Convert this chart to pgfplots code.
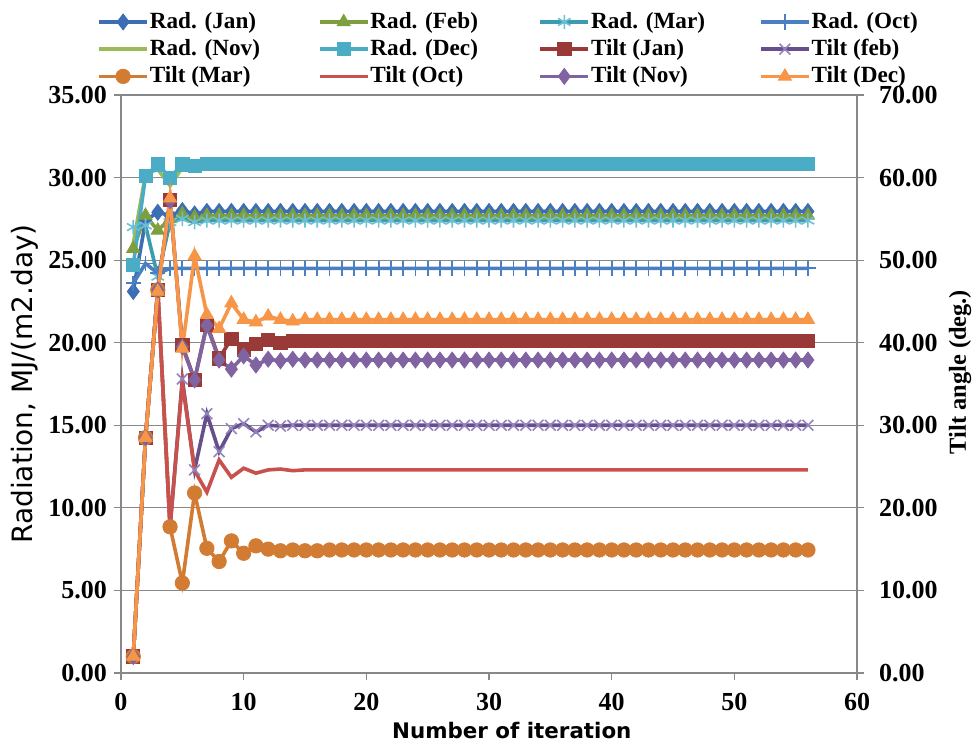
\documentclass[border=0pt]{standalone}
\usepackage{pgfplots}
\pgfplotsset{compat=1.18}
\usepackage{pgfplotstable}
\usepackage{fontspec}
\setmainfont{Liberation Serif}
\newfontfamily\labelsans{DejaVu Sans}

\definecolor{axisgray}{HTML}{888888}
\definecolor{rjanc}{HTML}{3C6EB4}
\definecolor{rfebc}{HTML}{7F9F3F}
\definecolor{rmarc}{HTML}{3D9BB0}
\definecolor{rmarm}{HTML}{6CC0D6}
\definecolor{roctc}{HTML}{4A7FC4}
\definecolor{rnovc}{HTML}{9BBB59}
\definecolor{rdecc}{HTML}{4BACC6}
\definecolor{tjanc}{HTML}{993A38}
\definecolor{tfebc}{HTML}{664F8C}
\definecolor{tfebm}{HTML}{9484BE}
\definecolor{tmarc}{HTML}{D27B32}
\definecolor{toctc}{HTML}{C8504D}
\definecolor{tnovc}{HTML}{8064A2}
\definecolor{tdecc}{HTML}{F79646}

% iteration, radiation (MJ/m2.day) and tilt angle (deg.) for each month
\pgfplotstableread{
it rjan  rfeb rmar roct rnov rdec  tjan tfeb tmar toct tnov tdec
1  23.1  25.7 27.0 23.6 26.0 24.7  2.0  2.0  2.0  2.0  2.0  2.0
2  27.4  27.7 27.1 24.8 30.2 30.1  28.5 28.5 28.5 28.5 28.5 28.5
3  27.9  26.8 24.0 24.2 30.5 30.8  46.4 46.4 46.4 46.4 46.4 46.2
4  27.7  27.5 27.3 24.5 29.5 30.0  57.3 17.7 17.7 17.6 57.2 57.5
5  28.0  27.8 27.5 24.5 30.6 30.8  39.7 35.6 10.9 35.2 39.5 39.3
6  27.8  27.6 27.3 24.5 30.7 30.7  35.5 24.6 21.8 24.5 35.5 50.5
7  27.95 27.7 27.4 24.5 30.8 30.85 42.2 31.4 15.1 21.9 42.1 43.4
8  27.95 27.7 27.4 24.5 30.8 30.85 38.1 26.8 13.5 25.8 37.9 41.7
9  27.95 27.7 27.4 24.5 30.8 30.85 40.5 29.6 16.0 23.7 36.8 44.8
10 27.95 27.7 27.4 24.5 30.8 30.85 39.2 30.2 14.5 24.8 38.4 42.8
11 27.95 27.7 27.4 24.5 30.8 30.85 39.9 29.2 15.4 24.2 37.3 42.5
12 27.95 27.7 27.4 24.5 30.8 30.85 40.3 30.0 15.0 24.6 38.0 43.2
13 27.95 27.7 27.4 24.5 30.8 30.85 40.0 29.9 14.8 24.7 37.8 42.8
14 27.95 27.7 27.4 24.5 30.8 30.85 40.2 30.0 14.9 24.5 38.0 42.6
15 27.95 27.7 27.4 24.5 30.8 30.85 40.2 30.0 14.8 24.6 37.9 42.8
16 27.95 27.7 27.4 24.5 30.8 30.85 40.2 30.0 14.8 24.6 37.9 42.8
17 27.95 27.7 27.4 24.5 30.8 30.85 40.2 30.0 14.9 24.6 37.9 42.8
18 27.95 27.7 27.4 24.5 30.8 30.85 40.2 30.0 14.9 24.6 37.9 42.8
19 27.95 27.7 27.4 24.5 30.8 30.85 40.2 30.0 14.9 24.6 37.9 42.8
20 27.95 27.7 27.4 24.5 30.8 30.85 40.2 30.0 14.9 24.6 37.9 42.8
21 27.95 27.7 27.4 24.5 30.8 30.85 40.2 30.0 14.9 24.6 37.9 42.8
22 27.95 27.7 27.4 24.5 30.8 30.85 40.2 30.0 14.9 24.6 37.9 42.8
23 27.95 27.7 27.4 24.5 30.8 30.85 40.2 30.0 14.9 24.6 37.9 42.8
24 27.95 27.7 27.4 24.5 30.8 30.85 40.2 30.0 14.9 24.6 37.9 42.8
25 27.95 27.7 27.4 24.5 30.8 30.85 40.2 30.0 14.9 24.6 37.9 42.8
26 27.95 27.7 27.4 24.5 30.8 30.85 40.2 30.0 14.9 24.6 37.9 42.8
27 27.95 27.7 27.4 24.5 30.8 30.85 40.2 30.0 14.9 24.6 37.9 42.8
28 27.95 27.7 27.4 24.5 30.8 30.85 40.2 30.0 14.9 24.6 37.9 42.8
29 27.95 27.7 27.4 24.5 30.8 30.85 40.2 30.0 14.9 24.6 37.9 42.8
30 27.95 27.7 27.4 24.5 30.8 30.85 40.2 30.0 14.9 24.6 37.9 42.8
31 27.95 27.7 27.4 24.5 30.8 30.85 40.2 30.0 14.9 24.6 37.9 42.8
32 27.95 27.7 27.4 24.5 30.8 30.85 40.2 30.0 14.9 24.6 37.9 42.8
33 27.95 27.7 27.4 24.5 30.8 30.85 40.2 30.0 14.9 24.6 37.9 42.8
34 27.95 27.7 27.4 24.5 30.8 30.85 40.2 30.0 14.9 24.6 37.9 42.8
35 27.95 27.7 27.4 24.5 30.8 30.85 40.2 30.0 14.9 24.6 37.9 42.8
36 27.95 27.7 27.4 24.5 30.8 30.85 40.2 30.0 14.9 24.6 37.9 42.8
37 27.95 27.7 27.4 24.5 30.8 30.85 40.2 30.0 14.9 24.6 37.9 42.8
38 27.95 27.7 27.4 24.5 30.8 30.85 40.2 30.0 14.9 24.6 37.9 42.8
39 27.95 27.7 27.4 24.5 30.8 30.85 40.2 30.0 14.9 24.6 37.9 42.8
40 27.95 27.7 27.4 24.5 30.8 30.85 40.2 30.0 14.9 24.6 37.9 42.8
41 27.95 27.7 27.4 24.5 30.8 30.85 40.2 30.0 14.9 24.6 37.9 42.8
42 27.95 27.7 27.4 24.5 30.8 30.85 40.2 30.0 14.9 24.6 37.9 42.8
43 27.95 27.7 27.4 24.5 30.8 30.85 40.2 30.0 14.9 24.6 37.9 42.8
44 27.95 27.7 27.4 24.5 30.8 30.85 40.2 30.0 14.9 24.6 37.9 42.8
45 27.95 27.7 27.4 24.5 30.8 30.85 40.2 30.0 14.9 24.6 37.9 42.8
46 27.95 27.7 27.4 24.5 30.8 30.85 40.2 30.0 14.9 24.6 37.9 42.8
47 27.95 27.7 27.4 24.5 30.8 30.85 40.2 30.0 14.9 24.6 37.9 42.8
48 27.95 27.7 27.4 24.5 30.8 30.85 40.2 30.0 14.9 24.6 37.9 42.8
49 27.95 27.7 27.4 24.5 30.8 30.85 40.2 30.0 14.9 24.6 37.9 42.8
50 27.95 27.7 27.4 24.5 30.8 30.85 40.2 30.0 14.9 24.6 37.9 42.8
51 27.95 27.7 27.4 24.5 30.8 30.85 40.2 30.0 14.9 24.6 37.9 42.8
52 27.95 27.7 27.4 24.5 30.8 30.85 40.2 30.0 14.9 24.6 37.9 42.8
53 27.95 27.7 27.4 24.5 30.8 30.85 40.2 30.0 14.9 24.6 37.9 42.8
54 27.95 27.7 27.4 24.5 30.8 30.85 40.2 30.0 14.9 24.6 37.9 42.8
55 27.95 27.7 27.4 24.5 30.8 30.85 40.2 30.0 14.9 24.6 37.9 42.8
56 27.95 27.7 27.4 24.5 30.8 30.85 40.2 30.0 14.9 24.6 37.9 42.8
}\iterdata

% legend texts share one width, so the columns are evenly spaced
\newcommand{\lgd}[1]{\makebox[56pt][l]{#1}}

\pgfplotsset{
  serieslw/.style={line width=1.8pt},
  radjan/.style={serieslw, color=rjanc, mark=diamond*, mark size=4pt,
    mark options={solid, line width=0.4pt, fill=rjanc}},
  radfeb/.style={serieslw, color=rfebc, mark=triangle*, mark size=3.8pt,
    mark options={solid, line width=0.4pt, fill=rfebc}},
  radmar/.style={serieslw, color=rmarc, mark=asterisk, mark size=3.6pt,
    mark options={solid, line width=0.8pt, draw=rmarm}},
  radoct/.style={serieslw, color=roctc, mark=+, mark size=3.8pt,
    mark options={solid, line width=0.9pt}},
  radnov/.style={serieslw, color=rnovc, no marks},
  raddec/.style={serieslw, color=rdecc, mark=square*, mark size=3.3pt,
    mark options={solid, line width=0.4pt, fill=rdecc}},
  tiltjan/.style={serieslw, color=tjanc, mark=square*, mark size=3.3pt,
    mark options={solid, line width=0.4pt, fill=tjanc}},
  tiltfeb/.style={serieslw, color=tfebc, mark=x, mark size=3.8pt,
    mark options={solid, line width=0.8pt, draw=tfebm}},
  tiltmar/.style={serieslw, color=tmarc, mark=*, mark size=3.6pt,
    mark options={solid, line width=0.4pt, fill=tmarc}},
  tiltoct/.style={serieslw, color=toctc, no marks},
  tiltnov/.style={serieslw, color=tnovc, mark=diamond*, mark size=4pt,
    mark options={solid, line width=0.4pt, fill=tnovc}},
  tiltdec/.style={serieslw, color=tdecc, mark=triangle*, mark size=3.8pt,
    mark options={solid, line width=0.4pt, fill=tdecc}},
  common/.style={
    scale only axis, width=368pt, height=289pt,
    xmin=0, xmax=60,
    axis line style={draw=axisgray, line width=0.6pt},
    tick style={draw=axisgray, line width=0.6pt},
    tick align=outside, major tick length=3.5pt,
    /pgf/number format/assume math mode=true,
    tick label style={font=\bfseries\fontsize{13}{15}\selectfont},
  },
}

\begin{document}
\begin{tikzpicture}
\path[use as bounding box] (-60.5pt,-35pt) rectangle (428.5pt,336.5pt);

% radiation on the left axis
\begin{axis}[
  common,
  ymin=0, ymax=35,
  xtick={0,10,...,60}, ytick={0,5,...,35},
  tick pos=left,
  ymajorgrids, grid style={draw=axisgray, line width=0.6pt},
  yticklabel style={/pgf/number format/fixed, /pgf/number format/fixed zerofill,
    /pgf/number format/precision=2},
  xticklabel style={yshift=-3pt},
  xlabel={Number of iteration},
  ylabel={Radiation, MJ/(m2.day)},
  xlabel style={font=\labelsans\bfseries\fontsize{10.7}{12}\selectfont,
    at={([yshift=-29pt]axis description cs:0.531,0)}, anchor=center},
  ylabel style={font=\labelsans\fontsize{14}{16}\selectfont,
    at={([xshift=-48pt]axis description cs:0,0.5)}, anchor=center},
]
\addplot[radjan] table[x=it, y=rjan] {\iterdata};
\addplot[radfeb] table[x=it, y=rfeb] {\iterdata};
\addplot[radmar] table[x=it, y=rmar] {\iterdata};
\addplot[radoct] table[x=it, y=roct] {\iterdata};
\addplot[radnov] table[x=it, y=rnov] {\iterdata};
\addplot[raddec] table[x=it, y=rdec] {\iterdata};
\end{axis}

% tilt angle on the right axis, with the shared legend
\begin{axis}[
  common,
  ymin=0, ymax=70, ytick={0,10,...,70},
  axis x line=none, axis y line*=right,
  yticklabel style={/pgf/number format/fixed, /pgf/number format/fixed zerofill,
    /pgf/number format/precision=2, xshift=4pt},
  ylabel={Tilt angle (deg.)},
  ylabel style={font=\bfseries\fontsize{12.2}{14}\selectfont,
    at={([xshift=51.5pt,yshift=6pt]axis description cs:1,0.5)}, anchor=center},
  legend columns=4,
  legend cell align=left,
  legend image code/.code={\draw[mark repeat=2,mark phase=2,#1]
    plot coordinates {(0cm,0cm) (0.42cm,0cm) (0.84cm,0cm)};},
  legend style={draw=none, fill=none, at={(-0.0326,1.147)}, anchor=north west,
    font=\bfseries\fontsize{11.6}{13.5}\selectfont, inner sep=0pt, row sep=2pt,
    nodes={inner xsep=0.5pt, inner ysep=1pt},
    /tikz/every even column/.append style={column sep=27.6pt}},
]
\addlegendimage{radjan}\addlegendentry{\lgd{Rad. (Jan)}}
\addlegendimage{radfeb}\addlegendentry{\lgd{Rad. (Feb)}}
\addlegendimage{radmar}\addlegendentry{\lgd{Rad. (Mar)}}
\addlegendimage{radoct}\addlegendentry{\lgd{Rad. (Oct)}}
\addlegendimage{radnov}\addlegendentry{\lgd{Rad. (Nov)}}
\addlegendimage{raddec}\addlegendentry{\lgd{Rad. (Dec)}}
\addplot[tiltjan] table[x=it, y=tjan] {\iterdata}; \addlegendentry{\lgd{Tilt (Jan)}}
\addplot[tiltfeb] table[x=it, y=tfeb] {\iterdata}; \addlegendentry{\lgd{Tilt (feb)}}
\addplot[tiltmar] table[x=it, y=tmar] {\iterdata}; \addlegendentry{\lgd{Tilt (Mar)}}
\addplot[tiltoct] table[x=it, y=toct] {\iterdata}; \addlegendentry{\lgd{Tilt (Oct)}}
\addplot[tiltnov] table[x=it, y=tnov] {\iterdata}; \addlegendentry{\lgd{Tilt (Nov)}}
\addplot[tiltdec] table[x=it, y=tdec] {\iterdata}; \addlegendentry{\lgd{Tilt (Dec)}}
\end{axis}
\end{tikzpicture}
\end{document}
